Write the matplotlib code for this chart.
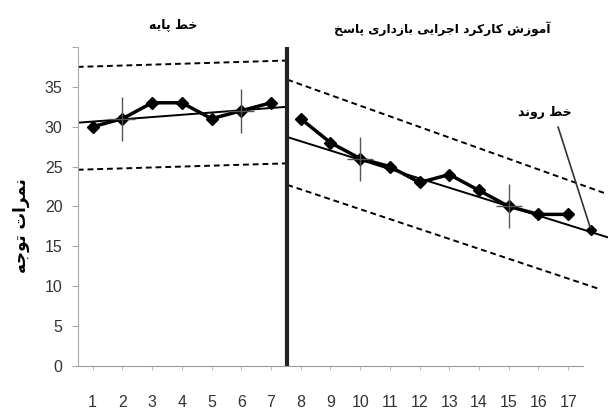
import matplotlib
matplotlib.use("Agg")
from matplotlib import pyplot as plt

# session numbers and attention scores
base_x = [1, 2, 3, 4, 5, 6, 7]
base_y = [30, 31, 33, 33, 31, 32, 33]
treat_x = [8, 9, 10, 11, 12, 13, 14, 15, 16, 17]
treat_y = [31, 28, 26, 25, 23, 24, 22, 20, 19, 19]

# trend line and band ends
base_trend_x = [0.5, 7.55]
base_trend_y = [30.5, 32.5]
base_upper_y = [37.5, 38.3]
base_lower_y = [24.6, 25.4]
treat_trend_x = [7.55, 18.35]
treat_trend_y = [28.7, 16.1]
treat_upper_x = [7.55, 18.2]
treat_upper_y = [35.9, 21.7]
treat_lower_x = [7.55, 18.0]
treat_lower_y = [22.7, 9.7]

cross_x = [2, 6, 10, 15]
cross_y = [31, 32, 26, 20]

phase_x = 7.55
y_ticks = [0, 5, 10, 15, 20, 25, 30, 35]

title_base = "خط پایه"
title_treat = "آموزش کارکرد اجرایی بازداری پاسخ"
trend_label = "خط روند"
y_label = "نمرات توجه"

# matplotlib does not shape arabic script, so pick the presentation forms by hand
FORMS = {
    'آ': ('\uFE81', '\uFE82'),
    'ا': ('\uFE8D', '\uFE8E'),
    'ب': ('\uFE8F', '\uFE90', '\uFE91', '\uFE92'),
    'پ': ('\uFB56', '\uFB57', '\uFB58', '\uFB59'),
    'ت': ('\uFE95', '\uFE96', '\uFE97', '\uFE98'),
    'ج': ('\uFE9D', '\uFE9E', '\uFE9F', '\uFEA0'),
    'خ': ('\uFEA5', '\uFEA6', '\uFEA7', '\uFEA8'),
    'د': ('\uFEA9', '\uFEAA'),
    'ر': ('\uFEAD', '\uFEAE'),
    'ز': ('\uFEAF', '\uFEB0'),
    'س': ('\uFEB1', '\uFEB2', '\uFEB3', '\uFEB4'),
    'ش': ('\uFEB5', '\uFEB6', '\uFEB7', '\uFEB8'),
    'ط': ('\uFEC1', '\uFEC2', '\uFEC3', '\uFEC4'),
    'ک': ('\uFB8E', '\uFB8F', '\uFB90', '\uFB91'),
    'گ': ('\uFB92', '\uFB93', '\uFB94', '\uFB95'),
    'م': ('\uFEE1', '\uFEE2', '\uFEE3', '\uFEE4'),
    'ن': ('\uFEE5', '\uFEE6', '\uFEE7', '\uFEE8'),
    'ه': ('\uFEE9', '\uFEEA', '\uFEEB', '\uFEEC'),
    'و': ('\uFEED', '\uFEEE'),
    'ی': ('\uFBFC', '\uFBFD', '\uFBFE', '\uFBFF'),
}


def shape(s):
    out = []
    for i, c in enumerate(s):
        if c not in FORMS:
            out.append(c)
            continue
        prev = s[i - 1] if i > 0 else ' '
        nxt = s[i + 1] if i + 1 < len(s) else ' '
        join_prev = prev in FORMS and len(FORMS[prev]) == 4
        join_next = nxt in FORMS and len(FORMS[c]) == 4
        f = FORMS[c]
        if join_prev and join_next:
            out.append(f[3])
        elif join_prev:
            out.append(f[1])
        elif join_next:
            out.append(f[2])
        else:
            out.append(f[0])
    return ''.join(out)[::-1]


fig = plt.figure(figsize=(6.08, 4.12), dpi=100)
ax = fig.add_axes([0.128, 0.112, 0.831, 0.774])

ax.plot(base_trend_x, base_trend_y, color='black', lw=1.4)
ax.plot(base_trend_x, base_upper_y, color='black', lw=1.4, ls=(0, (3, 2)))
ax.plot(base_trend_x, base_lower_y, color='black', lw=1.4, ls=(0, (3, 2)))
ax.plot(treat_trend_x, treat_trend_y, color='black', lw=1.4, clip_on=False)
ax.plot(treat_upper_x, treat_upper_y, color='black', lw=1.4, ls=(0, (3, 2)), clip_on=False)
ax.plot(treat_lower_x, treat_lower_y, color='black', lw=1.4, ls=(0, (3, 2)), clip_on=False)

ax.plot(base_x, base_y, color='black', lw=2.5, marker='D', ms=6)
ax.plot(treat_x, treat_y, color='black', lw=2.5, marker='D', ms=6)

ax.plot(cross_x, cross_y, ls='none', marker='|', ms=31, mew=1, color='#555555')
ax.plot(cross_x, cross_y, ls='none', marker='_', ms=19, mew=1, color='#555555')

ax.plot([phase_x, phase_x], [0, 40], color='#222222', lw=3)

ax.annotate('', xy=(17.77, 17.0), xytext=(16.63, 30.3),
            arrowprops=dict(arrowstyle='-', color='#333333', lw=1.2), annotation_clip=False)
ax.plot([17.77], [17.0], marker='D', ms=5, color='black', clip_on=False)

ax.text(16.2, 31.8, shape(trend_label), ha='center', va='center', fontsize=9,
        fontweight='bold', family='DejaVu Sans')
ax.text(3.7, 42.8, shape(title_base), ha='center', va='center', fontsize=9,
        fontweight='bold', family='DejaVu Sans', clip_on=False)
ax.text(12.75, 42.2, shape(title_treat), ha='center', va='center', fontsize=8.8,
        fontweight='bold', family='DejaVu Sans', clip_on=False)
ax.text(-0.112, 0.44, shape(y_label), transform=ax.transAxes, rotation=90,
        ha='center', va='center', fontsize=12, fontweight='bold', family='DejaVu Sans')

ax.set_xlim(0.5, 17.5)
ax.set_ylim(0, 40)
ax.set_xticks(base_x + treat_x)
ax.set_yticks(y_ticks + [40])
ax.set_yticklabels([str(v) for v in y_ticks] + [''])
for lab in ax.get_xticklabels() + ax.get_yticklabels():
    lab.set_family('Liberation Sans')
for s in ['top', 'right']:
    ax.spines[s].set_visible(False)
ax.spines['left'].set_color('#aaaaaa')
ax.spines['bottom'].set_color('#999999')
ax.tick_params(axis='y', length=4, color='#aaaaaa', pad=7, labelsize=11.5, labelcolor='#333333')
ax.tick_params(axis='x', length=3, color='#bbbbbb', pad=18, labelsize=11.5, labelcolor='#333333')

fig.savefig('out.png', dpi=100)
